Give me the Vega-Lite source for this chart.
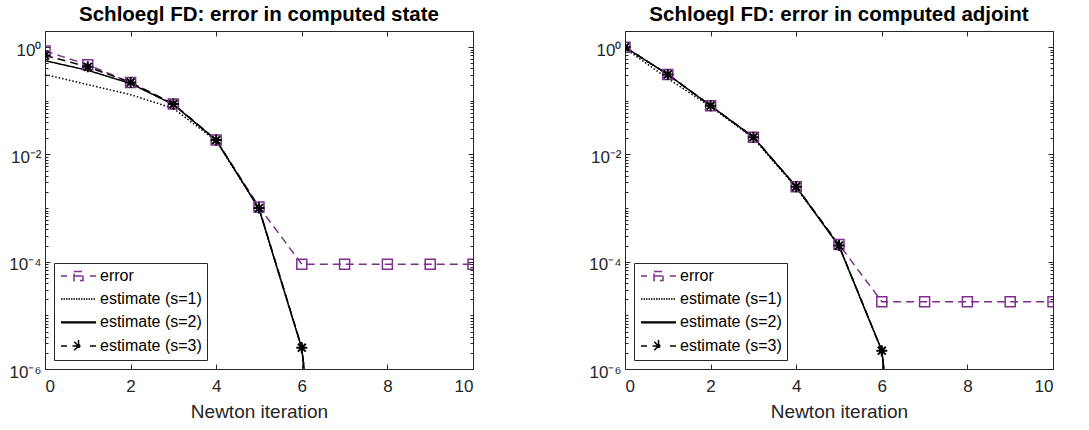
{
  "$schema": "https://vega.github.io/schema/vega-lite/v6.json",
  "padding": {"left": 8, "top": 4, "right": 5, "bottom": 5},
  "background": "white",
  "config": {
    "font": "Liberation Sans",
    "view": {"stroke": "#262626", "strokeWidth": 1},
    "axis": {"grid": false, "domain": false, "tickColor": "#262626", "labelColor": "#262626", "labelFont": "Liberation Sans", "labelFontSize": 17, "titleFont": "Liberation Sans", "titleColor": "#262626", "titleFontWeight": "normal", "titleFontSize": 19}
  },
  "datasets": {
    "errs": [
      {"panel": "state", "series": "error", "x": 0, "y": 0.85},
      {"panel": "state", "series": "error", "x": 1, "y": 0.47},
      {"panel": "state", "series": "error", "x": 2, "y": 0.22},
      {"panel": "state", "series": "error", "x": 3, "y": 0.087},
      {"panel": "state", "series": "error", "x": 4, "y": 0.0185},
      {"panel": "state", "series": "error", "x": 5, "y": 0.00105},
      {"panel": "state", "series": "error", "x": 6, "y": 0.00009},
      {"panel": "state", "series": "error", "x": 7, "y": 0.00009},
      {"panel": "state", "series": "error", "x": 8, "y": 0.00009},
      {"panel": "state", "series": "error", "x": 9, "y": 0.00009},
      {"panel": "state", "series": "error", "x": 10, "y": 0.00009},
      {"panel": "state", "series": "estimate (s=1)", "x": 0, "y": 0.31},
      {"panel": "state", "series": "estimate (s=1)", "x": 1, "y": 0.2},
      {"panel": "state", "series": "estimate (s=1)", "x": 2, "y": 0.13},
      {"panel": "state", "series": "estimate (s=1)", "x": 3, "y": 0.072},
      {"panel": "state", "series": "estimate (s=1)", "x": 4, "y": 0.018},
      {"panel": "state", "series": "estimate (s=1)", "x": 5, "y": 0.00096},
      {"panel": "state", "series": "estimate (s=1)", "x": 6, "y": 0.0000024},
      {"panel": "state", "series": "estimate (s=1)", "x": 7, "y": 2e-13},
      {"panel": "state", "series": "estimate (s=2)", "x": 0, "y": 0.56},
      {"panel": "state", "series": "estimate (s=2)", "x": 1, "y": 0.37},
      {"panel": "state", "series": "estimate (s=2)", "x": 2, "y": 0.21},
      {"panel": "state", "series": "estimate (s=2)", "x": 3, "y": 0.085},
      {"panel": "state", "series": "estimate (s=2)", "x": 4, "y": 0.0185},
      {"panel": "state", "series": "estimate (s=2)", "x": 5, "y": 0.00098},
      {"panel": "state", "series": "estimate (s=2)", "x": 6, "y": 0.0000024},
      {"panel": "state", "series": "estimate (s=2)", "x": 7, "y": 2e-13},
      {"panel": "state", "series": "estimate (s=3)", "x": 0, "y": 0.7},
      {"panel": "state", "series": "estimate (s=3)", "x": 1, "y": 0.43},
      {"panel": "state", "series": "estimate (s=3)", "x": 2, "y": 0.22},
      {"panel": "state", "series": "estimate (s=3)", "x": 3, "y": 0.087},
      {"panel": "state", "series": "estimate (s=3)", "x": 4, "y": 0.0185},
      {"panel": "state", "series": "estimate (s=3)", "x": 5, "y": 0.001},
      {"panel": "state", "series": "estimate (s=3)", "x": 6, "y": 0.0000025},
      {"panel": "state", "series": "estimate (s=3)", "x": 7, "y": 2e-13},
      {"panel": "adjoint", "series": "error", "x": 0, "y": 1.0},
      {"panel": "adjoint", "series": "error", "x": 1, "y": 0.31},
      {"panel": "adjoint", "series": "error", "x": 2, "y": 0.081},
      {"panel": "adjoint", "series": "error", "x": 3, "y": 0.021},
      {"panel": "adjoint", "series": "error", "x": 4, "y": 0.0025},
      {"panel": "adjoint", "series": "error", "x": 5, "y": 0.00021},
      {"panel": "adjoint", "series": "error", "x": 6, "y": 0.000018},
      {"panel": "adjoint", "series": "error", "x": 7, "y": 0.000018},
      {"panel": "adjoint", "series": "error", "x": 8, "y": 0.000018},
      {"panel": "adjoint", "series": "error", "x": 9, "y": 0.000018},
      {"panel": "adjoint", "series": "error", "x": 10, "y": 0.000018},
      {"panel": "adjoint", "series": "estimate (s=1)", "x": 0, "y": 0.95},
      {"panel": "adjoint", "series": "estimate (s=1)", "x": 1, "y": 0.26},
      {"panel": "adjoint", "series": "estimate (s=1)", "x": 2, "y": 0.078},
      {"panel": "adjoint", "series": "estimate (s=1)", "x": 3, "y": 0.02},
      {"panel": "adjoint", "series": "estimate (s=1)", "x": 4, "y": 0.0024},
      {"panel": "adjoint", "series": "estimate (s=1)", "x": 5, "y": 0.0002},
      {"panel": "adjoint", "series": "estimate (s=1)", "x": 6, "y": 0.0000022},
      {"panel": "adjoint", "series": "estimate (s=1)", "x": 7, "y": 2e-13},
      {"panel": "adjoint", "series": "estimate (s=2)", "x": 0, "y": 1.0},
      {"panel": "adjoint", "series": "estimate (s=2)", "x": 1, "y": 0.31},
      {"panel": "adjoint", "series": "estimate (s=2)", "x": 2, "y": 0.081},
      {"panel": "adjoint", "series": "estimate (s=2)", "x": 3, "y": 0.021},
      {"panel": "adjoint", "series": "estimate (s=2)", "x": 4, "y": 0.0025},
      {"panel": "adjoint", "series": "estimate (s=2)", "x": 5, "y": 0.000195},
      {"panel": "adjoint", "series": "estimate (s=2)", "x": 6, "y": 0.0000022},
      {"panel": "adjoint", "series": "estimate (s=2)", "x": 7, "y": 2e-13},
      {"panel": "adjoint", "series": "estimate (s=3)", "x": 0, "y": 1.0},
      {"panel": "adjoint", "series": "estimate (s=3)", "x": 1, "y": 0.31},
      {"panel": "adjoint", "series": "estimate (s=3)", "x": 2, "y": 0.081},
      {"panel": "adjoint", "series": "estimate (s=3)", "x": 3, "y": 0.021},
      {"panel": "adjoint", "series": "estimate (s=3)", "x": 4, "y": 0.0025},
      {"panel": "adjoint", "series": "estimate (s=3)", "x": 5, "y": 0.0002},
      {"panel": "adjoint", "series": "estimate (s=3)", "x": 6, "y": 0.0000022},
      {"panel": "adjoint", "series": "estimate (s=3)", "x": 7, "y": 2e-13}
    ]
  },
  "spacing": 152,
  "bounds": "flush",
  "resolve": {
    "scale": {"color": "independent", "shape": "independent", "stroke": "independent", "strokeDash": "independent", "strokeWidth": "independent"},
    "legend": {"stroke": "independent", "shape": "independent"}
  },
  "hconcat": [
    {
      "width": 428, "height": 338,
      "data": {"name": "errs"},
      "transform": [{"filter": "datum.panel == 'state'"}],
      "title": {"text": "Schloegl FD: error in computed state", "fontSize": 20.5, "fontWeight": "bold", "color": "black", "frame": "group", "offset": 5, "font": "Liberation Sans"},
      "resolve": {"axis": {"x": "independent", "y": "independent"}},
      "layer": [
        {
          "transform": [{"filter": "datum.y < 0.000001"}],
          "mark": {"type": "point", "clip": true, "filled": false, "opacity": 1, "strokeWidth": 1.5},
          "encoding": {
            "x": {"field": "x", "type": "quantitative", "scale": {"domain": [0, 10], "nice": false}, "axis": {"orient": "bottom", "values": [0, 2, 4, 6, 8, 10], "tickSize": -5, "labelPadding": 14, "title": "Newton iteration", "titlePadding": 8}},
            "y": {"field": "y", "type": "quantitative", "scale": {"type": "log", "domain": [0.000001, 2], "nice": false}, "axis": {"orient": "left", "title": null, "labelPadding": 9, "labelOffset": 3, "values": [0.000001,0.000002,0.000003,0.000004,0.000005,0.000006,0.000007,0.000008,0.000009,0.00001,0.00002,0.00003,0.00004,0.00005,0.00006,0.00007,0.00008,0.00009,0.0001,0.0002,0.0003,0.0004,0.0005,0.0006,0.0007,0.0008,0.0009,0.001,0.002,0.003,0.004,0.005,0.006,0.007,0.008,0.009,0.01,0.02,0.03,0.04,0.05,0.06,0.07,0.08,0.09,0.1,0.2,0.3,0.4,0.5,0.6,0.7,0.8,0.9,1,2], "labelExpr": "datum.value == 1 ? '10⁰' : datum.value == 0.01 ? '10⁻²' : datum.value == 0.0001 ? '10⁻⁴' : datum.value == 0.000001 ? '10⁻⁶' : ''", "tickSize": {"condition": {"test": "datum.value == 1 || datum.value == 0.01 || datum.value == 0.0001 || datum.value == 0.000001", "value": -5}, "value": -3}}},
            "stroke": {"field": "series", "type": "nominal", "scale": {"domain": ["error", "estimate (s=1)", "estimate (s=2)", "estimate (s=3)"], "range": ["#7E2F8E", "#000000", "#000000", "#000000"]}, "legend": {"title": null, "orient": "bottom-left", "offset": 9, "labelFontSize": 16, "labelColor": "black", "labelFont": "Liberation Sans", "symbolSize": 100, "symbolStrokeWidth": 1.5, "symbolFillColor": "transparent", "symbolOpacity": 1, "labelOffset": 25, "rowPadding": 7, "padding": 5, "strokeColor": "#262626", "fillColor": "white", "labelLimit": 300}},
            "shape": {"field": "series", "type": "nominal", "scale": {"domain": ["error", "estimate (s=1)", "estimate (s=2)", "estimate (s=3)"], "range": ["M-1.2,0H0M1.4,0H3.2M4.6,0H5.8M1.4,-0.9H3.2V0.9H1.4Z", "M-1.2,0h0.3M-0.7,0h0.3M-0.2,0h0.3M0.3,0h0.3M0.8,0h0.3M1.3,0h0.3M1.8,0h0.3M2.3,0h0.3M2.8,0h0.3M3.3,0h0.3M3.8,0h0.3M4.3,0h0.3M4.8,0h0.3M5.3,0h0.3", "M-1.2,0H5.8M-1.2,0.15H5.8", "M-1.2,0H0M4.6,0H5.8M1.1,0H3.5M2.3,-1.2V1.2M1.45,-0.85L3.15,0.85M1.45,0.85L3.15,-0.85"]}, "legend": {"title": null, "orient": "bottom-left", "offset": 9, "labelFontSize": 16, "labelColor": "black", "labelFont": "Liberation Sans", "symbolSize": 100, "symbolStrokeWidth": 1.5, "symbolFillColor": "transparent", "symbolOpacity": 1, "labelOffset": 25, "rowPadding": 7, "padding": 5, "strokeColor": "#262626", "fillColor": "white", "labelLimit": 300}}
          }
        },
        {
          "mark": {"type": "line", "clip": true},
          "encoding": {
            "x": {"field": "x", "type": "quantitative", "axis": null},
            "y": {"field": "y", "type": "quantitative", "axis": null},
            "color": {"field": "series", "type": "nominal", "scale": {"domain": ["error", "estimate (s=1)", "estimate (s=2)", "estimate (s=3)"], "range": ["#7E2F8E", "#000000", "#000000", "#000000"]}, "legend": null},
            "strokeDash": {"field": "series", "type": "nominal", "scale": {"domain": ["error", "estimate (s=1)", "estimate (s=2)", "estimate (s=3)"], "range": [[8, 5], [1.5, 2], [1, 0], [8, 5]]}, "legend": null},
            "strokeWidth": {"field": "series", "type": "nominal", "scale": {"domain": ["error", "estimate (s=1)", "estimate (s=2)", "estimate (s=3)"], "range": [1.5, 1.5, 2, 1.5]}, "legend": null}
          }
        },
        {
          "transform": [{"filter": "datum.series == 'error'"}],
          "mark": {"type": "point", "shape": "square", "filled": false, "color": "#7E2F8E", "size": 100, "strokeWidth": 1.5, "opacity": 1, "clip": true},
          "encoding": {
            "x": {"field": "x", "type": "quantitative", "axis": {"orient": "top", "values": [0, 2, 4, 6, 8, 10], "tickSize": -5, "labels": false, "title": null}},
            "y": {"field": "y", "type": "quantitative", "axis": {"orient": "right", "title": null, "labels": false, "values": [0.000001,0.000002,0.000003,0.000004,0.000005,0.000006,0.000007,0.000008,0.000009,0.00001,0.00002,0.00003,0.00004,0.00005,0.00006,0.00007,0.00008,0.00009,0.0001,0.0002,0.0003,0.0004,0.0005,0.0006,0.0007,0.0008,0.0009,0.001,0.002,0.003,0.004,0.005,0.006,0.007,0.008,0.009,0.01,0.02,0.03,0.04,0.05,0.06,0.07,0.08,0.09,0.1,0.2,0.3,0.4,0.5,0.6,0.7,0.8,0.9,1,2], "tickSize": {"condition": {"test": "datum.value == 1 || datum.value == 0.01 || datum.value == 0.0001 || datum.value == 0.000001", "value": -5}, "value": -3}}}
          }
        },
        {
          "transform": [{"filter": "datum.series == 'estimate (s=3)'"}],
          "mark": {"type": "point", "shape": "M-1,0H1M0,-1V1M-0.72,-0.72L0.72,0.72M-0.72,0.72L0.72,-0.72", "filled": false, "color": "#000000", "size": 121, "strokeWidth": 2, "opacity": 1, "clip": true},
          "encoding": {
            "x": {"field": "x", "type": "quantitative", "axis": null},
            "y": {"field": "y", "type": "quantitative", "axis": null}
          }
        }
      ]
    },
    {
      "width": 428, "height": 338,
      "data": {"name": "errs"},
      "transform": [{"filter": "datum.panel == 'adjoint'"}],
      "title": {"text": "Schloegl FD: error in computed adjoint", "fontSize": 20.5, "fontWeight": "bold", "color": "black", "frame": "group", "offset": 5, "font": "Liberation Sans"},
      "resolve": {"axis": {"x": "independent", "y": "independent"}},
      "layer": [
        {
          "transform": [{"filter": "datum.y < 0.000001"}],
          "mark": {"type": "point", "clip": true, "filled": false, "opacity": 1, "strokeWidth": 1.5},
          "encoding": {
            "x": {"field": "x", "type": "quantitative", "scale": {"domain": [0, 10], "nice": false}, "axis": {"orient": "bottom", "values": [0, 2, 4, 6, 8, 10], "tickSize": -5, "labelPadding": 14, "title": "Newton iteration", "titlePadding": 8}},
            "y": {"field": "y", "type": "quantitative", "scale": {"type": "log", "domain": [0.000001, 2], "nice": false}, "axis": {"orient": "left", "title": null, "labelPadding": 9, "labelOffset": 3, "values": [0.000001,0.000002,0.000003,0.000004,0.000005,0.000006,0.000007,0.000008,0.000009,0.00001,0.00002,0.00003,0.00004,0.00005,0.00006,0.00007,0.00008,0.00009,0.0001,0.0002,0.0003,0.0004,0.0005,0.0006,0.0007,0.0008,0.0009,0.001,0.002,0.003,0.004,0.005,0.006,0.007,0.008,0.009,0.01,0.02,0.03,0.04,0.05,0.06,0.07,0.08,0.09,0.1,0.2,0.3,0.4,0.5,0.6,0.7,0.8,0.9,1,2], "labelExpr": "datum.value == 1 ? '10⁰' : datum.value == 0.01 ? '10⁻²' : datum.value == 0.0001 ? '10⁻⁴' : datum.value == 0.000001 ? '10⁻⁶' : ''", "tickSize": {"condition": {"test": "datum.value == 1 || datum.value == 0.01 || datum.value == 0.0001 || datum.value == 0.000001", "value": -5}, "value": -3}}},
            "stroke": {"field": "series", "type": "nominal", "scale": {"domain": ["error", "estimate (s=1)", "estimate (s=2)", "estimate (s=3)"], "range": ["#7E2F8E", "#000000", "#000000", "#000000"]}, "legend": {"title": null, "orient": "bottom-left", "offset": 9, "labelFontSize": 16, "labelColor": "black", "labelFont": "Liberation Sans", "symbolSize": 100, "symbolStrokeWidth": 1.5, "symbolFillColor": "transparent", "symbolOpacity": 1, "labelOffset": 25, "rowPadding": 7, "padding": 5, "strokeColor": "#262626", "fillColor": "white", "labelLimit": 300}},
            "shape": {"field": "series", "type": "nominal", "scale": {"domain": ["error", "estimate (s=1)", "estimate (s=2)", "estimate (s=3)"], "range": ["M-1.2,0H0M1.4,0H3.2M4.6,0H5.8M1.4,-0.9H3.2V0.9H1.4Z", "M-1.2,0h0.3M-0.7,0h0.3M-0.2,0h0.3M0.3,0h0.3M0.8,0h0.3M1.3,0h0.3M1.8,0h0.3M2.3,0h0.3M2.8,0h0.3M3.3,0h0.3M3.8,0h0.3M4.3,0h0.3M4.8,0h0.3M5.3,0h0.3", "M-1.2,0H5.8M-1.2,0.15H5.8", "M-1.2,0H0M4.6,0H5.8M1.1,0H3.5M2.3,-1.2V1.2M1.45,-0.85L3.15,0.85M1.45,0.85L3.15,-0.85"]}, "legend": {"title": null, "orient": "bottom-left", "offset": 9, "labelFontSize": 16, "labelColor": "black", "labelFont": "Liberation Sans", "symbolSize": 100, "symbolStrokeWidth": 1.5, "symbolFillColor": "transparent", "symbolOpacity": 1, "labelOffset": 25, "rowPadding": 7, "padding": 5, "strokeColor": "#262626", "fillColor": "white", "labelLimit": 300}}
          }
        },
        {
          "mark": {"type": "line", "clip": true},
          "encoding": {
            "x": {"field": "x", "type": "quantitative", "axis": null},
            "y": {"field": "y", "type": "quantitative", "axis": null},
            "color": {"field": "series", "type": "nominal", "scale": {"domain": ["error", "estimate (s=1)", "estimate (s=2)", "estimate (s=3)"], "range": ["#7E2F8E", "#000000", "#000000", "#000000"]}, "legend": null},
            "strokeDash": {"field": "series", "type": "nominal", "scale": {"domain": ["error", "estimate (s=1)", "estimate (s=2)", "estimate (s=3)"], "range": [[8, 5], [1.5, 2], [1, 0], [8, 5]]}, "legend": null},
            "strokeWidth": {"field": "series", "type": "nominal", "scale": {"domain": ["error", "estimate (s=1)", "estimate (s=2)", "estimate (s=3)"], "range": [1.5, 1.5, 2, 1.5]}, "legend": null}
          }
        },
        {
          "transform": [{"filter": "datum.series == 'error'"}],
          "mark": {"type": "point", "shape": "square", "filled": false, "color": "#7E2F8E", "size": 100, "strokeWidth": 1.5, "opacity": 1, "clip": true},
          "encoding": {
            "x": {"field": "x", "type": "quantitative", "axis": {"orient": "top", "values": [0, 2, 4, 6, 8, 10], "tickSize": -5, "labels": false, "title": null}},
            "y": {"field": "y", "type": "quantitative", "axis": {"orient": "right", "title": null, "labels": false, "values": [0.000001,0.000002,0.000003,0.000004,0.000005,0.000006,0.000007,0.000008,0.000009,0.00001,0.00002,0.00003,0.00004,0.00005,0.00006,0.00007,0.00008,0.00009,0.0001,0.0002,0.0003,0.0004,0.0005,0.0006,0.0007,0.0008,0.0009,0.001,0.002,0.003,0.004,0.005,0.006,0.007,0.008,0.009,0.01,0.02,0.03,0.04,0.05,0.06,0.07,0.08,0.09,0.1,0.2,0.3,0.4,0.5,0.6,0.7,0.8,0.9,1,2], "tickSize": {"condition": {"test": "datum.value == 1 || datum.value == 0.01 || datum.value == 0.0001 || datum.value == 0.000001", "value": -5}, "value": -3}}}
          }
        },
        {
          "transform": [{"filter": "datum.series == 'estimate (s=3)'"}],
          "mark": {"type": "point", "shape": "M-1,0H1M0,-1V1M-0.72,-0.72L0.72,0.72M-0.72,0.72L0.72,-0.72", "filled": false, "color": "#000000", "size": 121, "strokeWidth": 2, "opacity": 1, "clip": true},
          "encoding": {
            "x": {"field": "x", "type": "quantitative", "axis": null},
            "y": {"field": "y", "type": "quantitative", "axis": null}
          }
        }
      ]
    }
  ]
}
